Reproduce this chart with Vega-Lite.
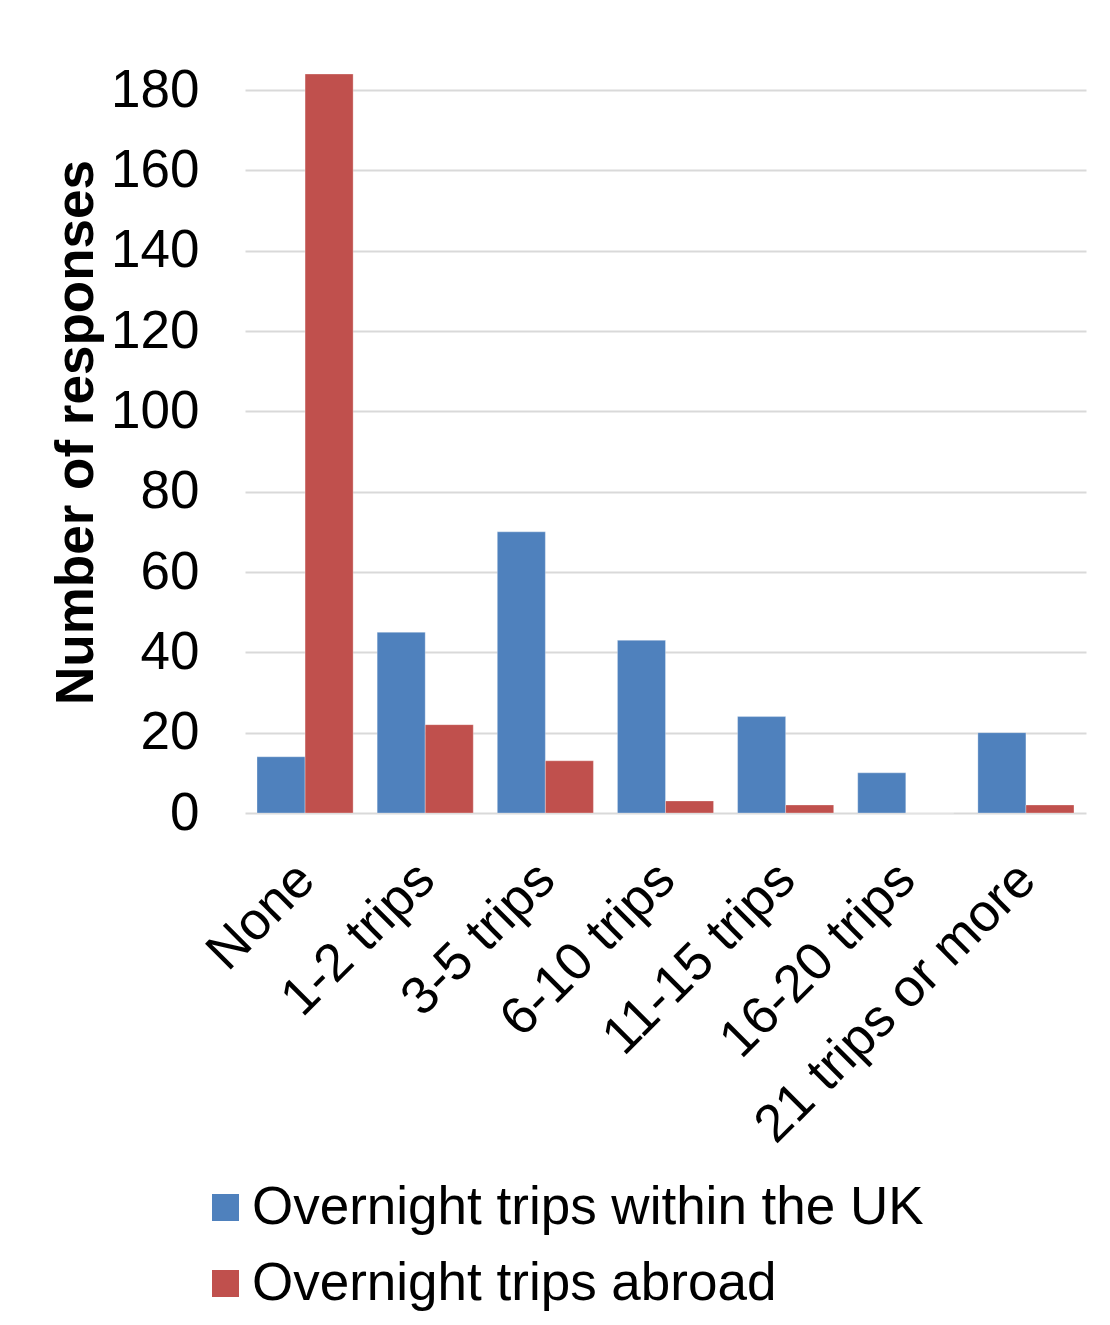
{
  "$schema": "https://vega.github.io/schema/vega-lite/v6.json",
  "autosize": "none",
  "padding": {"left": 245, "top": 74, "right": 24, "bottom": 512},
  "width": 841,
  "height": 739,
  "background": "white",
  "config": {
    "font": "Liberation Sans",
    "view": {"stroke": null}
  },
  "data": {
    "values": [
      {"category": "None", "series": "Overnight trips within the UK", "responses": 14},
      {"category": "None", "series": "Overnight trips abroad", "responses": 184},
      {"category": "1-2 trips", "series": "Overnight trips within the UK", "responses": 45},
      {"category": "1-2 trips", "series": "Overnight trips abroad", "responses": 22},
      {"category": "3-5 trips", "series": "Overnight trips within the UK", "responses": 70},
      {"category": "3-5 trips", "series": "Overnight trips abroad", "responses": 13},
      {"category": "6-10 trips", "series": "Overnight trips within the UK", "responses": 43},
      {"category": "6-10 trips", "series": "Overnight trips abroad", "responses": 3},
      {"category": "11-15 trips", "series": "Overnight trips within the UK", "responses": 24},
      {"category": "11-15 trips", "series": "Overnight trips abroad", "responses": 2},
      {"category": "16-20 trips", "series": "Overnight trips within the UK", "responses": 10},
      {"category": "16-20 trips", "series": "Overnight trips abroad", "responses": 0},
      {"category": "21 trips or more", "series": "Overnight trips within the UK", "responses": 20},
      {"category": "21 trips or more", "series": "Overnight trips abroad", "responses": 2}
    ]
  },
  "mark": {"type": "bar", "stroke": "white", "strokeOpacity": 0.3, "strokeWidth": 1},
  "encoding": {
    "x": {
      "field": "category",
      "type": "nominal",
      "sort": ["None", "1-2 trips", "3-5 trips", "6-10 trips", "11-15 trips", "16-20 trips", "21 trips or more"],
      "scale": {"paddingInner": 0.2, "paddingOuter": 0.1},
      "axis": {
        "title": null,
        "labelAngle": -45,
        "labelAlign": "right",
        "labelBaseline": "middle",
        "labelFontSize": 53,
        "labelColor": "black",
        "labelOffset": 1,
        "labelPadding": 58,
        "labelLimit": 0,
        "labelOverlap": false,
        "ticks": false,
        "tickSize": 0,
        "domain": false,
        "grid": false
      }
    },
    "xOffset": {
      "field": "series",
      "type": "nominal",
      "scale": {"domain": ["Overnight trips within the UK", "Overnight trips abroad"]}
    },
    "y": {
      "field": "responses",
      "type": "quantitative",
      "scale": {"domain": [0, 184], "nice": false},
      "axis": {
        "title": "Number of responses",
        "titleFontSize": 53,
        "titleFontWeight": "bold",
        "titleColor": "black",
        "titleAngle": -90,
        "titleX": -153,
        "titleY": 358,
        "titleAlign": "center",
        "titleBaseline": "alphabetic",
        "values": [0, 20, 40, 60, 80, 100, 120, 140, 160, 180],
        "labelFontSize": 53,
        "labelColor": "black",
        "labelPadding": 46,
        "ticks": false,
        "tickSize": 0,
        "domain": false,
        "grid": true,
        "gridColor": "#d9d9d9",
        "gridWidth": 2
      }
    },
    "color": {
      "field": "series",
      "type": "nominal",
      "scale": {
        "domain": ["Overnight trips within the UK", "Overnight trips abroad"],
        "range": ["#4F81BD", "#C0504D"]
      },
      "legend": {
        "title": null,
        "orient": "none",
        "legendX": -46,
        "legendY": 1107,
        "direction": "vertical",
        "symbolType": "square",
        "symbolSize": 729,
        "symbolStrokeWidth": 0,
        "symbolOpacity": 1,
        "labelFontSize": 53,
        "labelColor": "black",
        "labelOffset": 0,
        "labelLimit": 0,
        "rowPadding": 22,
        "padding": 0
      }
    }
  }
}
